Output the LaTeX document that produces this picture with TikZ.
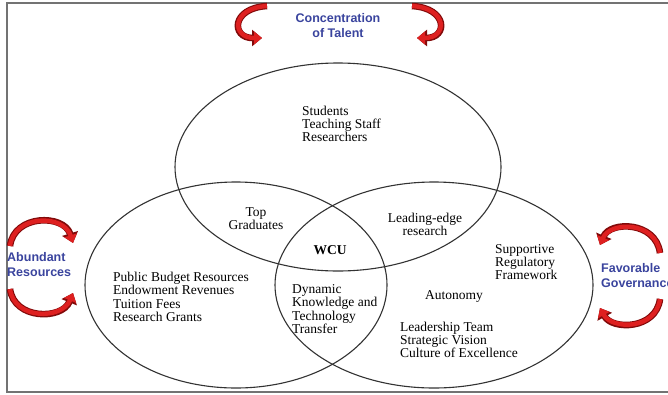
\documentclass[tikz,border=0pt]{standalone}
\usepackage{fontspec}
\setmainfont{Liberation Serif}
\newfontfamily\pillarfont{Liberation Sans}
\usetikzlibrary{arrows.meta}

\definecolor{pillarblue}{RGB}{58,68,158}
\definecolor{curlred}{RGB}{222,32,32}
\definecolor{curlrim}{RGB}{130,10,10}

\tikzset{
  frame/.style={draw=black!55, line width=1.4pt},
  venn/.style={draw=black!80, line width=1.1pt},
  body/.style={font=\fontsize{13.5}{13.3}\selectfont, align=left, inner sep=0pt},
  pillar/.style={font=\pillarfont\bfseries\fontsize{12.5}{15}\selectfont, text=pillarblue, align=left, inner sep=0pt},
  curlout/.style={draw=curlrim, line width=6.6pt, -{Triangle[length=10pt,width=16pt]}},
  curlin/.style={draw=curlred, line width=4.4pt, -{Triangle[length=8pt,width=12.5pt]}},
}

% red curled arrow, drawn twice for the dark rim
\newcommand{\redcurl}[4]{%
  \draw[curlout] (#1) .. controls (#2) and (#3) .. (#4);
  \draw[curlin] (#1) .. controls (#2) and (#3) .. (#4);
}

\begin{document}
\begin{tikzpicture}[x=1pt, y=-1pt]
    \useasboundingbox (0,0) rectangle (668,394);
    \fill[white] (0,0) rectangle (668,394);
    \draw[frame] (675,3) -- (7,3) -- (7,392) -- (675,392);

    % the three circles
    \draw[venn] (338,167) ellipse [x radius=163, y radius=104];
    \draw[venn] (236,285) ellipse [x radius=151, y radius=103];
    \draw[venn] (434,285) ellipse [x radius=159, y radius=103];

    % pillars
    \node[pillar, align=center] (talent) at (338,26) {Concentration\\of Talent};
    \node[pillar, anchor=west] (resources) at (7,265) {Abundant\\Resources};
    \node[pillar, anchor=west] (governance) at (601,275.5) {Favorable\\Governance};

    % curls
    \coordinate (talentL1) at (267,6);
    \coordinate (talentL2) at (262,38);
    \coordinate (talentR1) at (412,6);
    \coordinate (talentR2) at (417,38);
    \redcurl{talentL1}{231,8}{231,38}{talentL2}
    \redcurl{talentR1}{448,8}{448,38}{talentR2}

    \coordinate (resourcesT1) at (10,246);
    \coordinate (resourcesT2) at (73,243);
    \coordinate (resourcesB1) at (10,289);
    \coordinate (resourcesB2) at (73,293);
    \redcurl{resourcesT1}{14,214}{64,214}{resourcesT2}
    \redcurl{resourcesB1}{14,320}{62,320}{resourcesB2}

    \coordinate (governanceT1) at (660,253);
    \coordinate (governanceT2) at (600,245);
    \coordinate (governanceB1) at (660,299);
    \coordinate (governanceB2) at (600,308);
    \redcurl{governanceT1}{656,221}{610,221}{governanceT2}
    \redcurl{governanceB1}{656,330}{612,330}{governanceB2}

    % contents
    \node[body, anchor=west] (people) at (302,124) {Students\\Teaching Staff\\Researchers};
    \node[body, align=center] (graduates) at (256,218.5) {Top\\Graduates};
    \node[body, font=\bfseries\fontsize{13.5}{13.3}\selectfont] (wcu) at (330,250) {WCU};
    \node[body, anchor=west] (funding) at (113,297) {Public Budget Resources\\Endowment Revenues\\Tuition Fees\\Research Grants};
    \node[body, anchor=west] (transfer) at (292,309) {Dynamic\\Knowledge and\\Technology\\Transfer};
    \node[body, align=center] (research) at (425,224.5) {Leading-edge\\research};
    \node[body, anchor=west] (regulation) at (495,262) {Supportive\\Regulatory\\Framework};
    \node[body] (autonomy) at (454,296) {Autonomy};
    \node[body, anchor=west] (leadership) at (400,340) {Leadership Team\\Strategic Vision\\Culture of Excellence};
\end{tikzpicture}
\end{document}
